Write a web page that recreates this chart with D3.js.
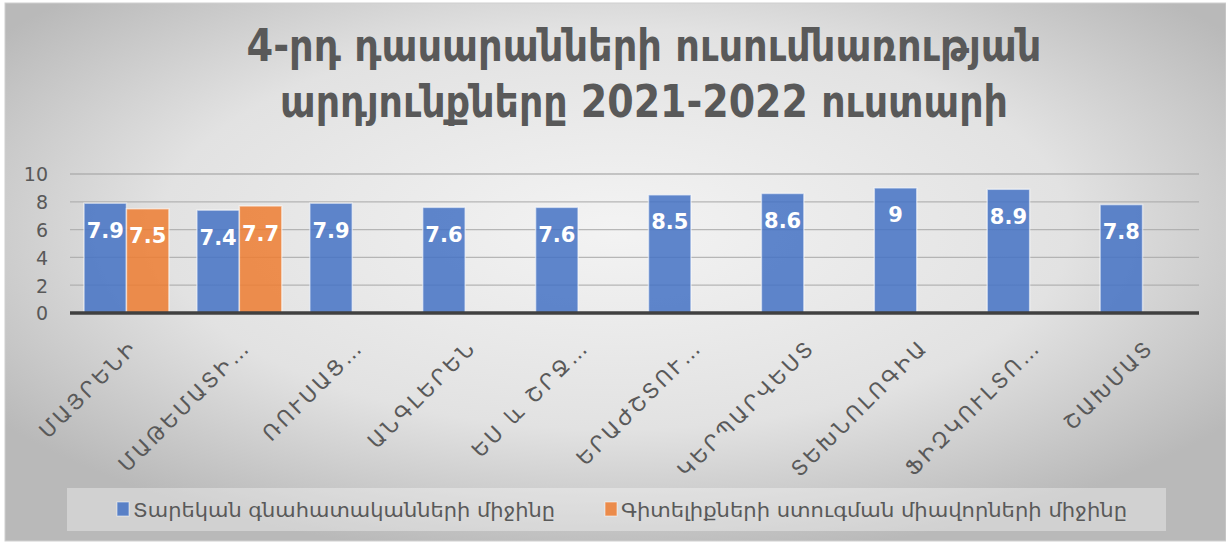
<!DOCTYPE html>
<html>
<head>
<meta charset="utf-8">
<script src="https://cdn.jsdelivr.net/npm/d3@7/dist/d3.min.js"></script>
<style>
  html, body { margin: 0; padding: 0; background: #fff; }
  svg { display: block; font-family: "DejaVu Sans", sans-serif; }
</style>
</head>
<body>
<svg id="chart" width="1226" height="546"></svg>
<script>
var categories = ['ՄԱՅՐԵՆԻ', 'ՄԱԹԵՄԱՏԻ…', 'ՌՈՒՍԱՑ…', 'ԱՆԳԼԵՐԵՆ', 'ԵՍ և ՇՐՋ…',
    'ԵՐԱԺՇՏՈՒ…', 'ԿԵՐՊԱՐՎԵՍՏ', 'ՏԵԽՆՈԼՈԳԻԱ', 'ՖԻԶԿՈՒԼՏՈ…', 'ՇԱԽՄԱՏ'];
var yearlyAvg = [7.9, 7.4, 7.9, 7.6, 7.6, 8.5, 8.6, 9, 8.9, 7.8];
var testAvg = [7.5, 7.7, null, null, null, null, null, null, null, null];
var seriesNames = ['Տարեկան գնահատականների միջինը', 'Գիտելիքների ստուգման միավորների միջինը'];
var yTicks = [0, 2, 4, 6, 8, 10];
var titleLines = ['4-րդ դասարանների ուսումնառության', 'արդյունքները 2021-2022 ուստարի'];

var COLORS = ['#4472c4', '#ed7d31'];
var MARGIN = { LEFT: 70, RIGHT: 1199, TOP: 174, BOTTOM: 313 };

var svg = d3.select('#chart');
var defs = svg.append('defs');
var grad = defs.append('radialGradient')
    .attr('id', 'bg')
    .attr('cx', '50%').attr('cy', '42%').attr('r', '62%');
grad.append('stop').attr('offset', '0%').attr('stop-color', '#f3f3f3');
grad.append('stop').attr('offset', '60%').attr('stop-color', '#e2e2e2');
grad.append('stop').attr('offset', '100%').attr('stop-color', '#b9b9b9');

// chart area
svg.append('rect')
    .attr('x', 5).attr('y', 3)
    .attr('width', 1221).attr('height', 538)
    .attr('fill', 'url(#bg)')
    .attr('stroke', '#d0d0d0')
    .attr('stroke-width', 1);

// title
svg.append('g').selectAll('text')
    .data(titleLines)
    .enter()
    .append('text')
    .attr('x', 644)
    .attr('y', function (d, i) { return 61 + i * 56; })
    .attr('text-anchor', 'middle')
    .attr('font-size', 45)
    .attr('font-weight', 'bold')
    .attr('fill', '#595959')
    .attr('textLength', function (d, i) { return i === 0 ? 795 : 728; })
    .attr('lengthAdjust', 'spacingAndGlyphs')
    .text(function (d) { return d; });

var x = d3.scaleBand()
    .domain(categories)
    .range([MARGIN.LEFT, MARGIN.RIGHT]);

var x1 = d3.scaleBand()
    .domain([0, 1])
    .range([0, x.bandwidth()])
    .paddingOuter(0.33);

var y = d3.scaleLinear()
    .domain([0, 10])
    .range([MARGIN.BOTTOM, MARGIN.TOP]);

// grid
svg.append('g').selectAll('line')
    .data(yTicks.filter(function (d) { return d > 0; }))
    .enter()
    .append('line')
    .attr('x1', MARGIN.LEFT).attr('x2', MARGIN.RIGHT)
    .attr('y1', function (d) { return y(d); })
    .attr('y2', function (d) { return y(d); })
    .attr('stroke', '#a8a8a8')
    .attr('stroke-opacity', 0.8)
    .attr('stroke-width', 1.3);

// y axis labels
var yAxis = d3.axisLeft(y).tickValues(yTicks).tickSize(0).tickPadding(0);
var yg = svg.append('g')
    .attr('transform', 'translate(48,0)')
    .call(yAxis);
yg.select('.domain').remove();
yg.selectAll('text')
    .attr('font-size', 19)
    .attr('font-family', '"DejaVu Sans", sans-serif')
    .attr('fill', '#595959')
    .attr('dy', '0.36em');

// bars
var rows = categories.map(function (c, i) {
    return { cat: c, values: [yearlyAvg[i], testAvg[i]] };
});

var groups = svg.append('g').selectAll('g.cat')
    .data(rows)
    .enter()
    .append('g')
    .attr('class', 'cat')
    .attr('transform', function (d) { return 'translate(' + x(d.cat) + ',0)'; });

groups.each(function (d) {
    var vals = d.values.map(function (v, k) { return { v: v, k: k }; })
        .filter(function (e) { return e.v !== null; });
    var g = d3.select(this);
    g.selectAll('rect')
        .data(vals)
        .enter()
        .append('rect')
        .attr('x', function (e) { return x1(e.k); })
        .attr('width', x1.bandwidth())
        .attr('y', function (e) { return y(e.v); })
        .attr('height', function (e) { return y(0) - y(e.v); })
        .attr('fill', function (e) { return COLORS[e.k]; })
        .attr('fill-opacity', 0.85)
        .attr('stroke', '#ffffff')
        .attr('stroke-opacity', 0.55)
        .attr('stroke-width', 1.5);
    g.selectAll('text')
        .data(vals)
        .enter()
        .append('text')
        .attr('x', function (e) { return x1(e.k) + x1.bandwidth() / 2; })
        .attr('y', function (e) { return y(e.v) + 27; })
        .attr('dy', '0.36em')
        .attr('text-anchor', 'middle')
        .attr('font-size', 21)
        .attr('font-weight', 'bold')
        .attr('fill', '#ffffff')
        .text(function (e) { return e.v; });
});

// x axis line
svg.append('line')
    .attr('x1', MARGIN.LEFT).attr('x2', MARGIN.RIGHT)
    .attr('y1', y(0)).attr('y2', y(0))
    .attr('stroke', '#404040')
    .attr('stroke-width', 3.5);

// category labels
svg.append('g').selectAll('text')
    .data(categories)
    .enter()
    .append('text')
    .attr('transform', function (d) {
        return 'translate(' + (x(d) + x.bandwidth() / 2 + 2) + ',338) rotate(-45)';
    })
    .attr('text-anchor', 'end')
    .attr('dy', '0.71em')
    .attr('font-size', 21)
    .attr('letter-spacing', 3)
    .attr('fill', '#595959')
    .text(function (d) { return d; });

// legend
var legend = svg.append('g');
legend.append('rect')
    .attr('x', 67).attr('y', 488)
    .attr('width', 1099).attr('height', 43)
    .attr('fill', '#ffffff')
    .attr('fill-opacity', 0.35);

var legendX = [117, 605];
var legendW = [422, 506];
var items = legend.selectAll('g.item')
    .data(seriesNames)
    .enter()
    .append('g')
    .attr('class', 'item')
    .attr('transform', function (d, i) { return 'translate(' + legendX[i] + ',0)'; });
items.append('rect')
    .attr('x', 0).attr('y', 502)
    .attr('width', 12).attr('height', 14)
    .attr('fill', function (d, i) { return COLORS[i]; })
    .attr('fill-opacity', 0.85)
    .attr('stroke', '#ffffff')
    .attr('stroke-opacity', 0.55);
items.append('text')
    .attr('x', 16).attr('y', 510)
    .attr('dy', '0.36em')
    .attr('font-size', 20)
    .attr('fill', '#595959')
    .attr('textLength', function (d, i) { return legendW[i]; })
    .attr('lengthAdjust', 'spacingAndGlyphs')
    .text(function (d) { return d; });
</script>
</body>
</html>
